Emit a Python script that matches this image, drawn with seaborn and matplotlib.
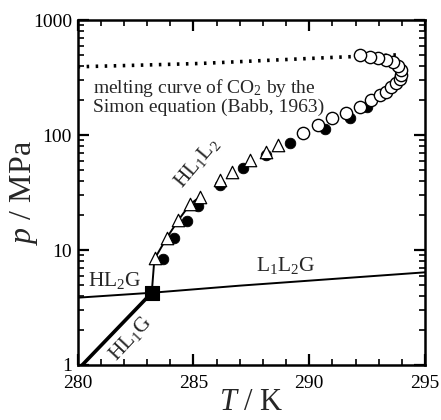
import numpy as np
import pandas as pd
import matplotlib
matplotlib.use("Agg")
import matplotlib.pyplot as plt
import seaborn as sns
from matplotlib.ticker import FixedLocator, MultipleLocator, LogLocator, NullFormatter

# --- data ---
# three-phase lines
l1l2g_T = [280.0, 283.2, 287.0, 291.0, 295.0]
l1l2g_p = [3.85, 4.25, 4.9, 5.6, 6.4]
hl1g_T = [280.2, 283.2]
hl1g_p = [1.0, 4.25]
hl1l2_T = [283.2, 283.3, 283.34, 283.84, 284.35, 284.85, 285.28]
hl1l2_p = [4.25, 7.7, 8.5, 12.7, 18.2, 25.0, 29.0]

# quadruple point
qp_T = [283.2]
qp_p = [4.25]

# melting curve of CO2 (Simon equation)
melt_T = [280.0, 282.5, 285.3, 288.0, 291.0, 293.9]
melt_p = [393, 405, 420, 445, 474, 500]

# filled circles
fc_T = [283.70, 284.16, 284.71, 285.21, 286.14, 287.15, 288.15, 289.16, 290.67, 291.75, 292.47]
fc_p = [8.3, 12.7, 18.0, 24.2, 36.7, 51.4, 67.0, 84.7, 114, 140, 176]

# open triangles
tr_T = [283.34, 283.84, 284.35, 284.85, 285.28, 286.14, 286.65, 287.44, 288.15, 288.66]
tr_p = [8.5, 12.7, 18.2, 25.0, 29.0, 40.5, 48.0, 60.5, 71.6, 81.7]

# open circles
oc_T = [289.73, 290.38, 290.96, 291.60, 292.18, 292.68, 293.04, 293.33, 293.54, 293.76,
        293.90, 293.97, 293.97, 293.83, 293.61, 293.33, 292.97, 292.60, 292.18]
oc_p = [103.5, 122, 140, 155, 174, 200, 223, 238, 260, 282,
        305, 332, 367, 398, 434, 447, 464, 479, 497]

sns.set_style("ticks")
plt.rcParams["font.family"] = ["Liberation Serif", "DejaVu Serif"]
plt.rcParams["mathtext.fontset"] = "custom"
plt.rcParams["mathtext.rm"] = "Liberation Serif"
plt.rcParams["mathtext.it"] = "Liberation Serif:italic"

fig = plt.figure(figsize=(4.41, 4.2), dpi=100)
ax = fig.add_axes([0.176, 0.131, 0.788, 0.821])

sns.lineplot(x=l1l2g_T, y=l1l2g_p, ax=ax, color="black", lw=1.4, sort=False)
sns.lineplot(x=hl1g_T, y=hl1g_p, ax=ax, color="black", lw=2.6, sort=False)
sns.lineplot(x=hl1l2_T, y=hl1l2_p, ax=ax, color="black", lw=1.4, sort=False)
ax.plot(melt_T, melt_p, color="black", lw=2.6, linestyle=(0, (0.7, 1.8)),
        dash_capstyle="butt")

sns.scatterplot(x=fc_T, y=fc_p, ax=ax, color="black", edgecolor="black", s=58, marker="o", zorder=3)
sns.scatterplot(x=tr_T, y=tr_p, ax=ax, color="white", edgecolor="black", linewidth=0.9,
                s=80, marker="^", zorder=4)
sns.scatterplot(x=oc_T, y=oc_p, ax=ax, color="white", edgecolor="black", linewidth=1.0,
                s=78, marker="o", zorder=5)
sns.scatterplot(x=qp_T, y=qp_p, ax=ax, color="black", edgecolor="black", s=100, marker="s", zorder=6)

ax.set_yscale("log")
ax.set_xlim(280, 295)
ax.set_ylim(1, 1000)
ax.xaxis.set_major_locator(FixedLocator([280, 285, 290, 295]))
ax.xaxis.set_minor_locator(MultipleLocator(1))
ax.yaxis.set_minor_locator(LogLocator(base=10, subs=np.arange(2, 10), numticks=10))
ax.yaxis.set_minor_formatter(NullFormatter())
ax.set_yticks([1, 10, 100, 1000])
ax.set_yticklabels(["1", "10", "100", "1000"])

for s in ax.spines.values():
    s.set_linewidth(1.8)
    s.set_color("black")
ax.tick_params(which="both", direction="in", top=True, right=True, color="black",
               labelsize=14, labelcolor="black")
ax.tick_params(which="major", length=8, width=1.6, pad=4)
ax.tick_params(which="minor", length=4, width=1.2)
ax.tick_params(axis="x", which="major", pad=7)

ax.set_xlabel("$T$ / K", fontsize=22, labelpad=-3)
ax.set_ylabel("$p$ / MPa", fontsize=23, labelpad=-5)

ax.text(280.65, 320, "melting curve of CO$_2$ by the\nSimon equation (Babb, 1963)",
        fontsize=14, va="top", ha="left", linespacing=1.0)
ax.text(285.15, 58, "HL$_1$L$_2$", fontsize=15.5, rotation=50, ha="center", va="center")
ax.text(281.6, 5.4, "HL$_2$G", fontsize=15.5, ha="center", va="center")
ax.text(289.0, 7.3, "L$_1$L$_2$G", fontsize=15.5, ha="center", va="center")
ax.text(282.3, 1.72, "HL$_1$G", fontsize=15.5, rotation=47, ha="center", va="center")

fig.savefig("out.png", dpi=100)
